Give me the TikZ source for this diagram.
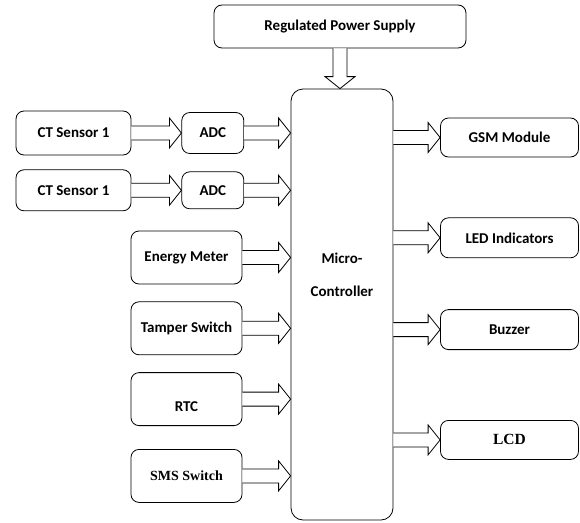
\documentclass[tikz,border=0pt]{standalone}
\usepackage{fontspec}
\setmainfont{Carlito}
\newfontfamily\timesfont{Liberation Serif}
\usetikzlibrary{positioning,calc}

% hollow block arrows
\newcommand\rightfat[2]{%
  \draw[fat] let \p1=(#1), \p2=(#2) in
    (\x1,\y1+7pt) -- (\x2-12pt,\y1+7pt) -- (\x2-12pt,\y1+15pt) -- (\x2,\y1)
    -- (\x2-12pt,\y1-15pt) -- (\x2-12pt,\y1-7pt) -- (\x1,\y1-7pt);}
\newcommand\downfat[2]{%
  \draw[fat] let \p1=(#1), \p2=(#2) in
    (\x1-7pt,\y1) -- (\x1-7pt,\y2+12pt) -- (\x1-15pt,\y2+12pt) -- (\x1,\y2)
    -- (\x1+15pt,\y2+12pt) -- (\x1+7pt,\y2+12pt) -- (\x1+7pt,\y1);}

\begin{document}
\begin{tikzpicture}[
  x=1pt, y=-1pt,
  font=\fontsize{15}{18}\selectfont\bfseries,
  box/.style={draw, rounded corners=8pt, line width=0.8pt, align=center, inner sep=2pt},
  inbox/.style={box, minimum width=111pt, minimum height=53pt},
  outbox/.style={box, minimum width=138pt, minimum height=40pt},
  fat/.style={draw, fill=white, line width=0.8pt, line join=miter},
]
\useasboundingbox (0,0) rectangle (580,522);

\node[box, minimum width=252pt, minimum height=43pt] (rps) at (340,26.5) {Regulated Power Supply};
\node[box, rounded corners=12pt, minimum width=102pt, minimum height=431pt] (mc) at (342,304.5)
  {\raisebox{28pt}[\height][\depth]{\begin{tabular}{@{}c@{}}Micro-\\[15pt]Controller\end{tabular}}};

\node[box, minimum width=115pt, minimum height=44pt] (ct1) at (73.5,133) {CT Sensor 1};
\node[box, minimum width=62pt, minimum height=41pt, right=50pt of ct1] (adc1) {ADC};
\node[box, minimum width=115pt, minimum height=41pt, below=14pt of ct1] (ct2) {CT Sensor 1};
\node[box, minimum width=62pt, minimum height=37pt, right=50pt of ct2] (adc2) {ADC};

\node[inbox] (em) at (186.5,257.5) {Energy Meter};
\node[inbox, below=17pt of em] (ts) {Tamper Switch};
\node[inbox, below=17pt of ts] (rtc) {\raisebox{-8pt}[\height][\depth]{RTC}};
\node[inbox, below=23pt of rtc] (sms) {\timesfont\fontsize{14}{17}\selectfont SMS Switch};

\node[outbox, minimum height=39pt] (gsm) at (509.5,137.5) {GSM Module};
\node[outbox, below=60pt of gsm] (led) {LED Indicators};
\node[outbox, below=51pt of led] (buz) {Buzzer};
\node[outbox, minimum height=39pt, below=70pt of buz] (lcd) {\timesfont\fontsize{15.5}{18}\selectfont LCD};

\downfat{rps.south}{rps.south |- mc.north}
\rightfat{ct1.east}{adc1.west}
\rightfat{ct2.east}{adc2.west}
\foreach \blk in {adc1,adc2,em,ts,rtc,sms}
  \rightfat{\blk.east}{mc.west |- \blk.east};
\foreach \blk in {gsm,led,buz,lcd}
  \rightfat{mc.east |- \blk.west}{\blk.west};
\end{tikzpicture}
\end{document}
